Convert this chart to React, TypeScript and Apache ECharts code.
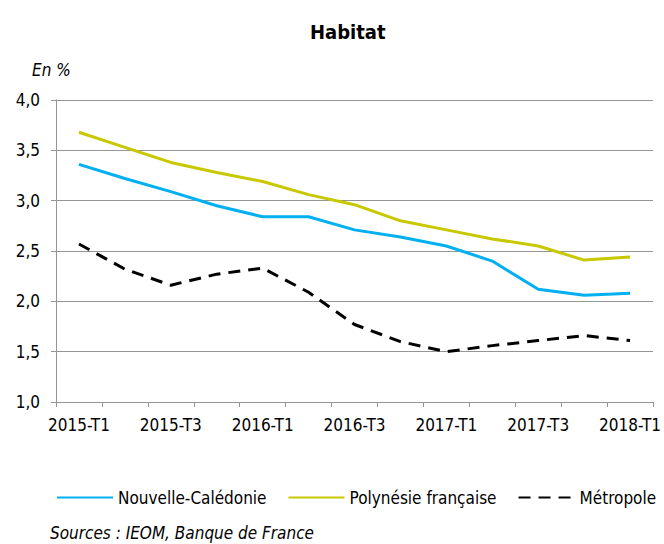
import React, { useEffect, useRef } from "react";
import * as echarts from "echarts";

const categories = [
  "2015-T1", "2015-T2", "2015-T3", "2015-T4",
  "2016-T1", "2016-T2", "2016-T3", "2016-T4",
  "2017-T1", "2017-T2", "2017-T3", "2017-T4",
  "2018-T1",
];
const nouvelleCaledonie = [3.36, 3.22, 3.09, 2.95, 2.84, 2.84, 2.71, 2.64, 2.55, 2.40, 2.12, 2.06, 2.08];
const polynesieFrancaise = [3.68, 3.53, 3.38, 3.28, 3.19, 3.06, 2.96, 2.80, 2.71, 2.62, 2.55, 2.41, 2.44];
const metropole = [2.57, 2.32, 2.16, 2.27, 2.33, 2.09, 1.77, 1.60, 1.50, 1.56, 1.61, 1.66, 1.61];
const seriesNames = ["Nouvelle-Calédonie", "Polynésie française", "Métropole"];

const FONT = "DejaVu Sans Condensed";

export default function App() {
  const ref = useRef<HTMLDivElement>(null);
  useEffect(() => {
    if (!ref.current) return;
    const chart = echarts.init(ref.current, undefined, { renderer: "svg" });
    chart.setOption({
      animation: false,
      backgroundColor: "#ffffff",
      title: {
        text: "Habitat",
        left: 305,
        top: 17,
        textStyle: { fontFamily: FONT, fontSize: 20, fontWeight: "bold", color: "#000" },
      },
      graphic: [
        {
          type: "text",
          left: 32,
          top: 61,
          style: { text: "En %", fontFamily: FONT, fontSize: 17, fontStyle: "italic", fill: "#000" },
        },
        {
          type: "text",
          left: 50,
          top: 524,
          style: {
            text: "Sources : IEOM, Banque de France",
            fontFamily: FONT,
            fontSize: 17,
            fontStyle: "italic",
            fill: "#000",
          },
        },
      ],
      legend: {
        left: 51,
        top: 484,
        itemWidth: 56,
        itemHeight: 14,
        itemGap: 21,
        itemStyle: { opacity: 0 },
        textStyle: { fontFamily: FONT, fontSize: 17, color: "#000" },
        data: seriesNames,
      },
      grid: { left: 56, right: 10, top: 100, bottom: 142, containLabel: false },
      xAxis: {
        type: "category",
        data: categories,
        boundaryGap: true,
        axisLine: { lineStyle: { color: "#959595", width: 1 } },
        axisTick: { show: true, interval: 0, length: 5, lineStyle: { color: "#959595" } },
        axisLabel: { interval: 1, color: "#000", fontFamily: FONT, fontSize: 17, margin: 14 },
        splitLine: { show: false },
      },
      yAxis: {
        type: "value",
        min: 1,
        max: 4,
        interval: 0.5,
        axisLine: { show: true, lineStyle: { color: "#959595", width: 1 } },
        axisTick: { show: true, length: 5, lineStyle: { color: "#959595" } },
        axisLabel: {
          color: "#000",
          fontFamily: FONT,
          fontSize: 17,
          margin: 16,
          formatter: (v: number) => v.toFixed(1).replace(".", ","),
        },
        splitLine: { lineStyle: { color: "#959595", width: 1 } },
      },
      series: [
        {
          name: seriesNames[0],
          type: "line",
          data: nouvelleCaledonie,
          symbol: "none",
          lineStyle: { color: "#00B0F0", width: 3 },
          itemStyle: { color: "#00B0F0" },
        },
        {
          name: seriesNames[1],
          type: "line",
          data: polynesieFrancaise,
          symbol: "none",
          lineStyle: { color: "#C8C800", width: 3 },
          itemStyle: { color: "#C8C800" },
        },
        {
          name: seriesNames[2],
          type: "line",
          data: metropole,
          symbol: "none",
          lineStyle: { color: "#000000", width: 3, type: [12, 8] },
          itemStyle: { color: "#000000" },
        },
      ],
    });
    return () => chart.dispose();
  }, []);
  return <div ref={ref} style={{ width: 664, height: 544, position: "absolute", left: 0, top: 0 }} />;
}
